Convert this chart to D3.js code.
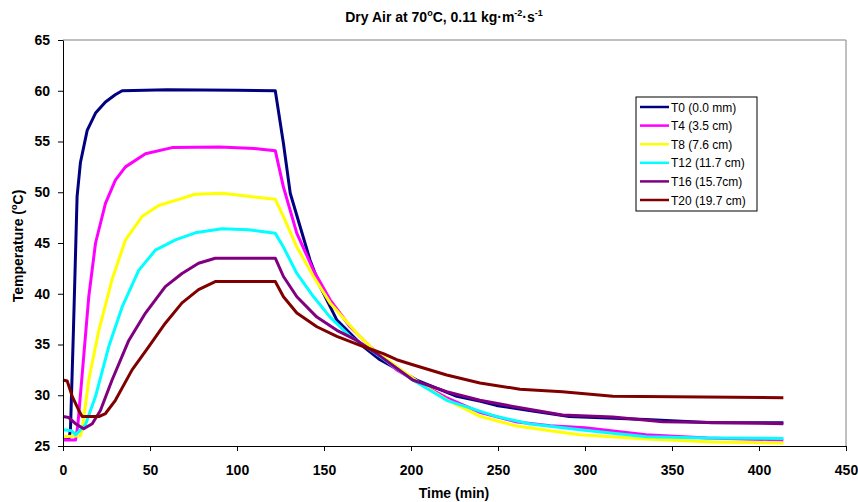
<!DOCTYPE html>
<html>
<head>
<meta charset="utf-8">
<script src="https://cdn.jsdelivr.net/npm/d3@7.9.0/dist/d3.min.js"></script>
<style>
  body { margin: 0; background: #fff; }
  svg { font-family: Arial, 'Liberation Sans', sans-serif; }
  .axis text { font-size: 14px; font-weight: bold; }
</style>
</head>
<body>
<div id="chart"></div>
<script>
// [time (min), temperature (°C)]
const t0 = [[0,25.7],[3.5,25.8],[4.3,26.6],[6,36.4],[8.1,49.6],[10,52.9],[13.9,56.1],[18.7,57.8],[24.4,58.9],[30,59.6],[34,60],[60,60.1],[100,60.05],[122,60.0],
  [126.7,54.8],[130.6,49.9],[136.3,46.6],[142,43.3],[147.8,40.7],[157.4,37.4],[172.6,34.8],[182.2,33.5],[203.3,31.5],[226.3,29.9],[240,29.4],[249,29.0],[268,28.5],[291,27.9],[335,27.6],[373,27.3],[414,27.3]];
const t4 = [[0,25.6],[7.2,25.6],[8.5,27],[11,32],[14.8,39.7],[18.7,45],[24.4,48.9],[30.1,51.2],[35.9,52.5],[47.4,53.8],[62.7,54.4],[90,54.45],[110,54.3],[122,54.1],
  [126.7,50.5],[134.4,45.95],[144,42.3],[153.5,39.4],[165,36.75],[176.5,34.8],[191.8,32.5],[205,31.2],[220,29.8],[240,28.3],[260,27.4],[280,27.0],[300,26.8],[335,26.1],[370,25.8],[414,25.6]];
const t8 = [[0,25.9],[10,26.0],[11,26.6],[14.8,31.5],[20.6,36.4],[28.2,41.4],[35.9,45.3],[45.4,47.6],[55,48.7],[64.6,49.2],[76,49.8],[91.4,49.9],[106.6,49.6],[122,49.3],
  [126.7,47.6],[134.4,44.6],[144,41.7],[153.5,39.1],[168.9,36.1],[178.3,34.5],[191.8,32.8],[205,31.2],[220,29.6],[240,27.9],[260,27.0],[280,26.5],[297,26.1],[335,25.7],[373,25.4],[414,25.3]];
const t12 = [[0,26.6],[5,26.5],[7.2,26.1],[12.9,27.1],[18.7,29.9],[26.3,34.8],[34,38.7],[43.5,42.3],[53.1,44.3],[64.6,45.3],[76,46.0],[91.4,46.4],[106.6,46.3],[122,45.95],
  [126.7,44.6],[134.4,42.0],[144,39.7],[153.5,37.7],[165,35.8],[176.5,34.5],[188,33.1],[201,31.5],[220.5,29.5],[249.2,27.9],[268,27.2],[297,26.6],[335.3,25.9],[370,25.8],[414,25.75]];
const t16 = [[0,27.9],[3.3,27.8],[7.2,27.2],[11.9,26.7],[16.8,27.2],[21.5,28.5],[28.2,31.5],[37.8,35.4],[47.4,38.1],[58.8,40.7],[68.4,42.0],[77.9,43.0],[87.5,43.5],[122,43.5],
  [126.7,41.7],[134.4,39.7],[145.9,37.7],[157.4,36.4],[168.9,35.4],[180.3,34.1],[201,31.5],[220.5,30.35],[239.6,29.5],[258.6,28.9],[287,28.05],[316,27.85],[344.6,27.4],[414,27.2]];
const t20 = [[0,31.5],[2.4,31.4],[5.3,29.9],[9.1,28.5],[11,27.9],[20.6,27.9],[24.4,28.2],[30.1,29.5],[39.7,32.5],[49.3,34.8],[58.8,37.1],[68.4,39.1],[77.9,40.4],[87.5,41.2],[122,41.2],
  [126.7,39.7],[134.4,38.1],[145.9,36.75],[157.4,35.8],[172.6,34.8],[184.1,34.1],[191.8,33.5],[201,33.0],[220.5,32.0],[239.6,31.2],[262.6,30.6],[287,30.35],[316,29.9],[414,29.75]];

const seriesNames = ['T0 (0.0 mm)', 'T4 (3.5 cm)', 'T8 (7.6 cm)', 'T12 (11.7 cm)', 'T16 (15.7cm)', 'T20 (19.7 cm)'];
const seriesData = [t0, t4, t8, t12, t16, t20];
const seriesColors = ['#000080', '#FF00FF', '#FFFF00', '#00FFFF', '#800080', '#800000'];
const xTicks = d3.range(0, 451, 50);
const yTicks = d3.range(25, 66, 5);

const width = 858, height = 502;
const margin = { top: 40, right: 12, bottom: 56, left: 63 };

const svg = d3.select('#chart').append('svg')
  .attr('width', width)
  .attr('height', height);

const xScale = d3.scaleLinear().domain([0, 450]).range([margin.left, width - margin.right]);
const yScale = d3.scaleLinear().domain([25, 65]).range([height - margin.bottom, margin.top]);

// plot frame: grey top/right
svg.append('path')
  .attr('d', `M${xScale(0)},${yScale(65)}H${xScale(450)}V${yScale(25)}`)
  .attr('fill', 'none')
  .attr('stroke', '#808080')
  .attr('stroke-width', 1);

const line = d3.line()
  .x(d => xScale(d[0]))
  .y(d => yScale(d[1]));

svg.append('g')
  .selectAll('path')
  .data(seriesData)
  .join('path')
  .attr('d', line)
  .attr('fill', 'none')
  .attr('stroke', (d, i) => seriesColors[i])
  .attr('stroke-width', 3)
  .attr('stroke-linejoin', 'round');

const xAxis = d3.axisBottom(xScale).tickValues(xTicks).tickSize(5).tickSizeOuter(0).tickPadding(14);
svg.append('g')
  .attr('class', 'axis')
  .attr('transform', `translate(0, ${yScale(25)})`)
  .call(xAxis)
  .call(g => g.selectAll('line, path').attr('stroke', '#000'));

const yAxis = d3.axisLeft(yScale).tickValues(yTicks).tickSize(5).tickSizeOuter(0).tickPadding(8);
svg.append('g')
  .attr('class', 'axis')
  .attr('transform', `translate(${xScale(0)}, 0)`)
  .call(yAxis)
  .call(g => g.selectAll('line, path').attr('stroke', '#000'));

// title
const title = svg.append('text')
  .attr('x', 444)
  .attr('y', 22)
  .attr('text-anchor', 'middle')
  .attr('font-size', 14)
  .attr('font-weight', 'bold');
title.append('tspan').text('Dry Air at 70');
title.append('tspan').attr('dy', -6).attr('font-size', 9).text('o');
title.append('tspan').attr('dy', 6).text('C, 0.11 kg·m');
title.append('tspan').attr('dy', -6).attr('font-size', 9).text('-2');
title.append('tspan').attr('dy', 6).text('·s');
title.append('tspan').attr('dy', -6).attr('font-size', 9).text('-1');

// axis titles
svg.append('text')
  .attr('x', 454)
  .attr('y', 498)
  .attr('text-anchor', 'middle')
  .attr('font-size', 14)
  .attr('font-weight', 'bold')
  .text('Time (min)');

const yLabel = svg.append('text')
  .attr('transform', 'translate(23, 246) rotate(-90)')
  .attr('text-anchor', 'middle')
  .attr('font-size', 14)
  .attr('font-weight', 'bold');
yLabel.append('tspan').text('Temperature (');
yLabel.append('tspan').attr('dy', -6).attr('font-size', 9).text('o');
yLabel.append('tspan').attr('dy', 6).text('C)');

// legend
const legend = svg.append('g').attr('transform', 'translate(636, 97)');
legend.append('rect')
  .attr('width', 121)
  .attr('height', 114)
  .attr('fill', '#fff')
  .attr('stroke', '#000')
  .attr('stroke-width', 1);

const item = legend.selectAll('g.item')
  .data(seriesNames)
  .join('g')
  .attr('class', 'item')
  .attr('transform', (d, i) => `translate(0, ${10 + i * 18.6})`);

item.append('line')
  .attr('x1', 4)
  .attr('x2', 33)
  .attr('stroke', (d, i) => seriesColors[i])
  .attr('stroke-width', 2.5);

item.append('text')
  .attr('x', 35)
  .attr('y', 4.5)
  .attr('font-size', 12)
  .text(d => d);
</script>
</body>
</html>
